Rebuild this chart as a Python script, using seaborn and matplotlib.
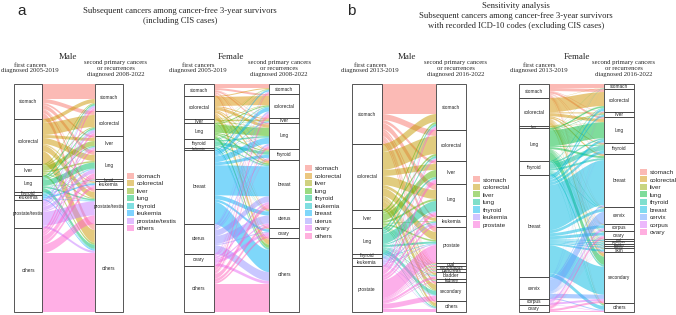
import numpy as np
import matplotlib.pyplot as plt
import seaborn as sns
from matplotlib.patches import Rectangle, Patch

sns.set_theme(style="white")
plt.rcParams['font.family'] = ['Liberation Sans', 'DejaVu Sans']

# ---- data (relative flow sizes) ----
# panel a, male
a_male_first = ['stomach', 'colorectal', 'liver', 'lung', 'thyroid', 'leukemia',
                'prostate/testis', 'others']
a_male_second = ['stomach', 'colorectal', 'liver', 'lung', 'thyroid', 'leukemia',
                 'prostate/testis', 'others']
a_male_flows = [
    [15, 4, 2, 4, 0.3, 0.7, 3, 6],
    [4, 12, 3, 6, 0.3, 1, 6, 12.7],
    [1, 1, 5, 1.5, 0.1, 0.4, 1, 2],
    [1.5, 1.5, 1, 6, 0.1, 0.4, 1.5, 4],
    [0.3, 0.3, 0.2, 0.4, 0.5, 0.1, 0.4, 0.8],
    [0.4, 0.4, 0.3, 0.6, 0.1, 1.5, 0.5, 1.2],
    [2, 3, 1.5, 4, 0.2, 1, 14, 2.3],
    [2.8, 2.8, 2, 5.5, 0.4, 2.9, 8.6, 59],
]

# panel a, female
a_female_first = ['stomach', 'colorectal', 'liver', 'lung', 'thyroid', 'leukemia',
                  'breast', 'uterus', 'ovary', 'others']
a_female_second = ['stomach', 'colorectal', 'liver', 'lung', 'thyroid', 'breast',
                   'uterus', 'ovary', 'others']
a_female_flows = [
    [4, 2, 0.5, 1.5, 0.5, 1, 0.5, 0.3, 1.7],
    [1, 9, 1, 3, 1, 2, 1, 0.5, 4.5],
    [0.2, 0.5, 1.5, 0.5, 0.2, 0.3, 0.1, 0.1, 0.6],
    [0.5, 1, 0.3, 8, 1, 1.5, 0.5, 0.2, 3],
    [0.3, 0.8, 0.2, 1.5, 3, 1.2, 0.3, 0.2, 1.5],
    [0.1, 0.2, 0.1, 0.3, 0.2, 0.3, 0.1, 0.1, 0.6],
    [1.5, 4, 0.8, 6, 3, 30, 4, 2.5, 22.2],
    [0.8, 2, 0.3, 2, 1, 6, 8, 1, 8.9],
    [0.3, 1, 0.1, 0.8, 0.4, 2, 1.5, 3, 2.9],
    [1.3, 3.5, 0.2, 2.4, 0.7, 4.7, 3, 2.1, 28.1],
]

# panel b, male
b_male_first = ['stomach', 'colorectal', 'liver', 'lung', 'thyroid', 'leukemia',
                'prostate']
b_male_second = ['stomach', 'colorectal', 'liver', 'lung', 'leukemia', 'prostate',
                 'oral', 'esophagus', 'pancreas', 'bladder', 'kidney',
                 'secondary', 'others']
b_male_flows = [
    [30, 6, 3, 6, 2, 5, 0.5, 0.8, 0.7, 1, 0.5, 2.5, 2],
    [8, 18, 6, 9, 3, 8, 0.8, 0.8, 0.8, 2, 1, 5.6, 3],
    [2, 2, 7, 2, 0.6, 1.5, 0.2, 0.2, 0.3, 0.4, 0.2, 0.8, 0.8],
    [2, 2, 2, 10, 1, 2, 0.3, 0.3, 0.3, 0.7, 0.3, 4, 1.1],
    [0.4, 0.4, 0.3, 0.6, 0.3, 0.6, 0.1, 0.1, 0.1, 0.2, 0.1, 0.5, 0.3],
    [0.8, 0.8, 0.5, 1, 2, 1, 0.1, 0.1, 0.1, 0.3, 0.1, 0.6, 0.6],
    [2.8, 1.8, 4.2, 3.4, 2.1, 17.9, 1, 0.7, 0.7, 2.4, 0.8, 5, 3.2],
]

# panel b, female
b_female_first = ['stomach', 'colorectal', 'liver', 'lung', 'thyroid', 'breast',
                  'cervix', 'corpus', 'ovary']
b_female_second = ['stomach', 'colorectal', 'liver', 'lung', 'thyroid', 'breast',
                   'cervix', 'corpus', 'ovary', 'oral', 'pancreas', 'bladder',
                   'kidney', 'skin', 'secondary', 'others']
b_female_flows = [
    [4, 3, 0.5, 2, 0.5, 0.5, 0.3, 0.2, 0.2, 0.2, 0.3, 0.1, 0.1, 0.2, 1.4, 0.5],
    [0.3, 14, 1, 3, 1, 1.5, 0.5, 0.5, 0.5, 0.2, 0.4, 0.3, 0.3, 0.5, 3, 1],
    [0, 0.2, 0.8, 0.3, 0.1, 0.1, 0, 0, 0, 0, 0.1, 0, 0, 0, 0.3, 0.1],
    [0.2, 1.5, 0.5, 16, 1, 2, 0.5, 0.3, 0.5, 0.3, 0.3, 0.3, 0.3, 0.5, 8, 0.8],
    [0.1, 0.8, 0.2, 1.5, 5, 2, 0.5, 0.2, 0.3, 0.2, 0.1, 0.1, 0.2, 0.3, 2, 0.5],
    [0.3, 2.5, 1.9, 2.5, 3, 45, 3, 3, 3, 1, 1, 1, 1, 2, 28, 3.8],
    [0.1, 0.5, 0.1, 0.3, 0.3, 1.5, 12, 0.5, 0.5, 0.2, 0.1, 0.3, 0.2, 0.2, 4.2, 1],
    [0, 0.2, 0, 0.2, 0.1, 0.2, 0.1, 2, 0.5, 0.1, 0, 0, 0.1, 0.1, 2, 0.4],
    [0, 0.3, 0, 0.2, 0, 0.2, 0.1, 0.3, 2.5, 0, 0, 0.1, 0.1, 0.2, 2.1, 0.9],
]

# ggplot-style hue colours per panel
pal_a_male = sns.color_palette(['#F8766D', '#CD9600', '#7CAE00', '#00BE67',
                                '#00BFC4', '#00A9FF', '#C77CFF', '#FF61CC'])
pal_a_female = sns.color_palette(['#F8766D', '#D89000', '#A3A500', '#39B600', '#00BF7D',
                                  '#00BFC4', '#00B0F6', '#9590FF', '#E76BF3', '#FF62BC'])
pal_b_male = sns.color_palette(['#F8766D', '#C49A00', '#53B400', '#00C094',
                                '#00B6EB', '#A58AFF', '#FB61D7'])
pal_b_female = sns.color_palette(['#F8766D', '#D39200', '#93AA00', '#00BA38', '#00C19F',
                                  '#00B9E3', '#619CFF', '#DB72FB', '#FF61C3'])

W = 0.35  # stratum width in axis units


def alluvial(ax, first, second, flows, colors):
    flows = np.asarray(flows, dtype=float)
    left_tot = flows.sum(axis=1)
    right_tot = flows.sum(axis=0)
    left_start = np.concatenate([[0], np.cumsum(left_tot)[:-1]])
    right_start = np.concatenate([[0], np.cumsum(right_tot)[:-1]])
    left_off = left_start[:, None] + np.cumsum(flows, axis=1) - flows
    right_off = right_start[None, :] + np.cumsum(flows, axis=0) - flows

    x = np.linspace(1 + W / 2, 2 - W / 2, 80)
    t = (x - x[0]) / (x[-1] - x[0])
    s = t * t * (3 - 2 * t)
    for i in range(flows.shape[0]):
        for j in range(flows.shape[1]):
            v = flows[i, j]
            if v <= 0:
                continue
            top = left_off[i, j] + (right_off[i, j] - left_off[i, j]) * s
            ax.fill_between(x, top, top + v, color=colors[i], alpha=0.5,
                            linewidth=0, edgecolor='none')

    for pos, names, starts, tots in [(1, first, left_start, left_tot),
                                     (2, second, right_start, right_tot)]:
        for name, y0, h in zip(names, starts, tots):
            ax.add_patch(Rectangle((pos - W / 2, y0), W, h, facecolor='white',
                                   edgecolor='#3a3a3a', linewidth=0.6, clip_on=False))
            # thin strata get a smaller label, as in the original
            fs = 3.4 if h >= 3 else 2.4
            ax.text(pos, y0 + h / 2, name, ha='center', va='center', fontsize=fs,
                    color='#222222')

    ax.set_xlim(1 - W / 2, 2 + W / 2)
    ax.set_ylim(flows.sum(), 0)
    ax.axis('off')


fig = plt.figure(figsize=(6.76, 3.15), dpi=100)
PX, PY = 676, 315


def fx(px):
    return px / PX


def fy(py):
    return 1 - py / PY


panels = [
    (14, 123, a_male_first, a_male_second, a_male_flows, pal_a_male, 127),
    (184, 299, a_female_first, a_female_second, a_female_flows, pal_a_female, 305),
    (352, 466, b_male_first, b_male_second, b_male_flows, pal_b_male, 473),
    (519, 634, b_female_first, b_female_second, b_female_flows, pal_b_female, 640),
]
for x0, x1, first, second, flows, pal, lx in panels:
    ax = fig.add_axes([fx(x0), fy(312), fx(x1 - x0), 228 / PY])
    alluvial(ax, first, second, flows, pal)
    handles = [Patch(facecolor=c, alpha=0.5, edgecolor='none', label=n)
               for n, c in zip(first, pal)]
    fig.legend(handles=handles, loc='center left', bbox_to_anchor=(fx(lx), fy(202)),
               frameon=False, fontsize=4.6, handlelength=1.1, handleheight=1.1,
               handletextpad=0.4, labelspacing=0.2, borderpad=0, borderaxespad=0)

serif = ['Liberation Serif', 'DejaVu Serif']
fig.text(fx(22), fy(11), 'a', fontsize=11, ha='center', va='center')
fig.text(fx(351), fy(11), 'b', fontsize=11, ha='center', va='center')
fig.text(fx(180), fy(16), 'Subsequent cancers among cancer-free 3-year survivors\n'
         '(including CIS cases)', family=serif, fontsize=6.2, ha='center', va='center',
         linespacing=1.25)
fig.text(fx(516), fy(16), 'Sensitivity analysis\n'
         'Subsequent cancers among cancer-free 3-year survivors\n'
         'with recorded ICD-10 codes (excluding CIS cases)', family=serif, fontsize=6.2,
         ha='center', va='center', linespacing=1.25)

heads = [
    (68, 'Male', 30, 'diagnosed 2005-2019', 116, 'diagnosed 2008-2022'),
    (231, 'Female', 198, 'diagnosed 2005-2019', 279, 'diagnosed 2008-2022'),
    (407, 'Male', 370, 'diagnosed 2013-2019', 456, 'diagnosed 2016-2022'),
    (577, 'Female', 539, 'diagnosed 2013-2019', 624, 'diagnosed 2016-2022'),
]
for mx, sex, lx, ltxt, rx, rtxt in heads:
    fig.text(fx(mx), fy(57), sex, family=serif, fontsize=6.5, ha='center', va='center')
    fig.text(fx(lx), fy(68), 'first cancers\n' + ltxt, family=serif, fontsize=4.8,
             ha='center', va='center', linespacing=1.2)
    fig.text(fx(rx), fy(68.5), 'second primary cancers\nor recurrences\n' + rtxt,
             family=serif, fontsize=4.8, ha='center', va='center', linespacing=1.2)

fig.savefig('out.png', dpi=100)
